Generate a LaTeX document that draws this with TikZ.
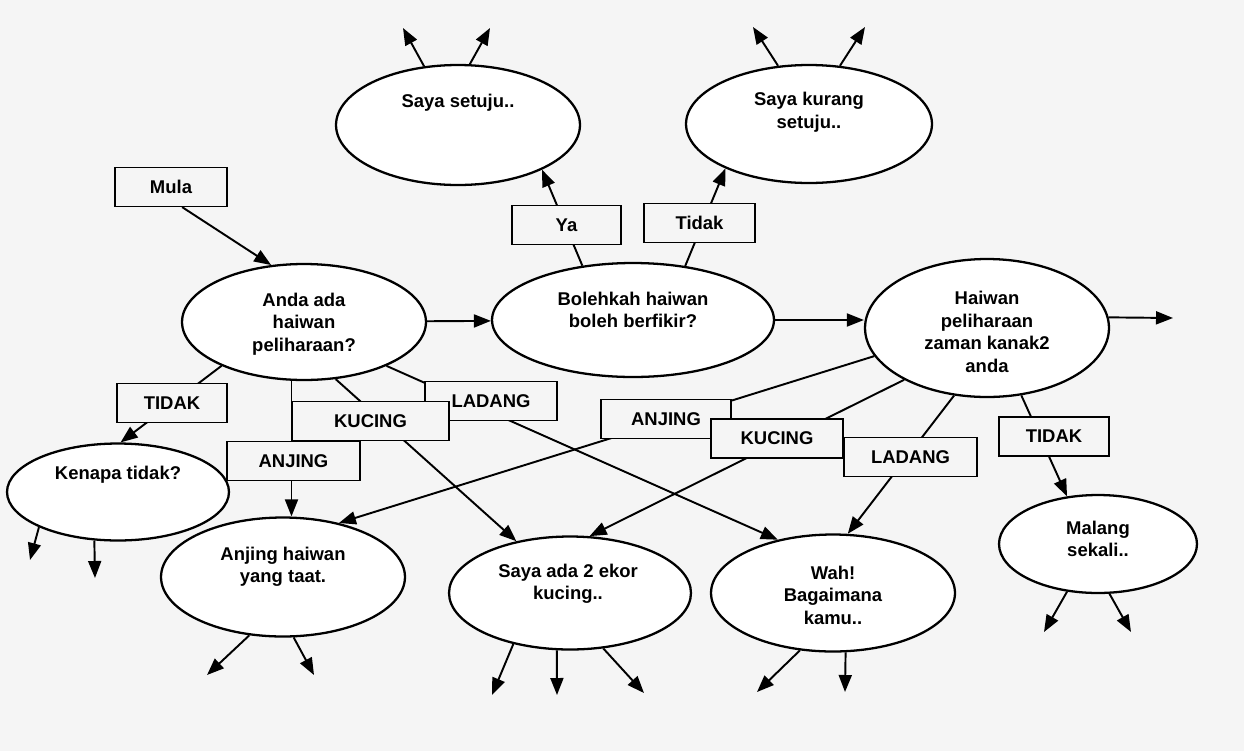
\documentclass[tikz,border=0pt]{standalone}
\usepackage{fontspec}
\setmainfont{Liberation Sans}
\usetikzlibrary{shapes.geometric, arrows.meta}
\colorlet{paper}{gray!8}

\begin{document}
\begin{tikzpicture}[
    % Один шаг = один пиксель исходной картинки, ось y вниз
    x=0.02cm, y=-0.02cm,
    % Стиль для вопросов и ответов: эллипс с белым фоном
    bubble/.style={ellipse, draw, line width=1.3pt, fill=white, inner sep=0pt},
    % Стиль для подписей на стрелках: тонкая рамка
    choice/.style={rectangle, draw, line width=0.7pt, fill=paper, inner sep=0pt,
        minimum height=0.78cm, font=\fontsize{10.5}{12.8}\selectfont\bfseries},
    % Текст внутри эллипсов
    words/.style={align=center, font=\fontsize{10.5}{12.8}\selectfont\bfseries},
    % Стрелки
    flow/.style={line width=1.1pt, -{Triangle[length=0.34cm, width=0.26cm]}}
]

    % --- Фон ---
    \path[fill=paper, use as bounding box] (0,0) rectangle (1244,751);

    % --- Эллипсы (вопросы и ответы) ---
    \node[bubble, minimum width=4.88cm, minimum height=2.40cm] (ss)  at (458,125) {};
    \node[bubble, minimum width=4.92cm, minimum height=2.36cm] (sk)  at (809,124) {};
    \node[bubble, minimum width=4.88cm, minimum height=2.32cm] (aa)  at (304,322) {};
    \node[bubble, minimum width=5.64cm, minimum height=2.28cm] (bh)  at (633,320) {};
    \node[bubble, minimum width=4.88cm, minimum height=2.76cm] (hp)  at (987,328) {};
    \node[bubble, minimum width=4.44cm, minimum height=1.94cm] (kt)  at (118,492) {};
    \node[bubble, minimum width=4.88cm, minimum height=2.38cm] (ah)  at (283,577) {};
    \node[bubble, minimum width=4.84cm, minimum height=2.26cm] (sa)  at (570,593) {};
    \node[bubble, minimum width=4.88cm, minimum height=2.34cm] (wah) at (833,593) {};
    \node[bubble, minimum width=3.96cm, minimum height=1.96cm] (mal) at (1098,544) {};

    \node[words] (ss-t)  at (458,103) {Saya setuju..};
    \node[words] (sk-t)  at (809,112) {Saya kurang\\setuju..};
    \node[words] (aa-t)  at (304,324) {Anda ada\\haiwan\\peliharaan?};
    \node[words] (bh-t)  at (633,310) {Bolehkah haiwan\\boleh berfikir?};
    \node[words] (hp-t)  at (987,332) {Haiwan\\peliharaan\\zaman kanak2\\anda};
    \node[words] (kt-t)  at (118,475) {Kenapa tidak?};
    \node[words] (ah-t)  at (283,567) {Anjing haiwan\\yang taat.};
    \node[words] (sa-t)  at (568,584) {Saya ada 2 ekor\\kucing..};
    \node[words] (wah-t) at (833,595) {Wah!\\Bagaimana\\kamu..};
    \node[words] (mal-t) at (1098,539) {Malang\\sekali..};

    % --- Начало ---
    \node[choice, minimum width=2.24cm] (mula) at (171,187) {Mula};
    \draw[flow] (mula.-61) -- (aa.120);

    % --- Свободные концы стрелок ---
    \coordinate (ss-a)  at (403,28);
    \coordinate (ss-b)  at (490,28);
    \coordinate (sk-a)  at (753,27);
    \coordinate (sk-b)  at (865,27);
    \coordinate (hp-a)  at (1173,318);
    \coordinate (kt-a)  at (30,560);
    \coordinate (kt-b)  at (95,578);
    \coordinate (ah-a)  at (207,675);
    \coordinate (ah-b)  at (314,675);
    \coordinate (sa-a)  at (492,695);
    \coordinate (sa-b)  at (557,695);
    \coordinate (sa-c)  at (644,693);
    \coordinate (wah-a) at (757,692);
    \coordinate (wah-b) at (845,692);
    \coordinate (mal-a) at (1044,632);
    \coordinate (mal-b) at (1131,632);

    \draw[flow] (ss.120) -- (ss-a);
    \draw[flow] (ss.79) -- (ss-b);
    \draw[flow] (sk.118) -- (sk-a);
    \draw[flow] (sk.62) -- (sk-b);
    \draw[flow] (hp.5) -- (hp-a);
    \draw[flow] (kt.204) -- (kt-a);
    \draw[flow] (kt.244) -- (kt-b);
    \draw[flow] (ah.240) -- (ah-a);
    \draw[flow] (ah.280) -- (ah-b);
    \draw[flow] (sa.222) -- (sa-a);
    \draw[flow] (sa.257) -- (sa-b);
    \draw[flow] (sa.301) -- (sa-c);
    \draw[flow] (wah.240) -- (wah-a);
    \draw[flow] (wah.282) -- (wah-b);
    \draw[flow] (mal.237) -- (mal-a);
    \draw[flow] (mal.283) -- (mal-b);

    % --- Переходы между эллипсами ---
    \draw[flow] (aa) -- (bh);
    \draw[flow] (bh.east) -- (hp.west |- bh.east);
    \draw[flow] (bh.133) -- (ss.-28);
    \draw[flow] (bh.46) -- (sk.208);
    \draw[flow] (aa.208) -- (kt.87);
    \draw[flow] (aa.258) -- (aa.258 |- ah.north);
    \draw[flow] (aa.-61) -- (sa.136);
    \draw[flow] (aa.-28) -- (wah.136);
    \draw[flow] (hp.194) -- (ah.44);
    \draw[flow] (hp.212) -- (sa.71);
    \draw[flow] (hp.244) -- (wah.76);
    \draw[flow] (hp.-63) -- (mal.123);

    % --- Подписи на переходах (поверх линий) ---
    \node[choice, minimum width=2.18cm] (ya)      at (566.5,225) {Ya};
    \node[choice, minimum width=2.22cm] (tidak)   at (699.5,223) {Tidak};
    \node[choice, minimum width=2.20cm] (tidak1)  at (172,403)   {TIDAK};
    \node[choice, minimum width=2.66cm] (anjing1) at (293.5,461) {ANJING};
    \node[choice, minimum width=2.64cm] (ladang1) at (491,401)   {LADANG};
    \node[choice, minimum width=3.14cm] (kucing1) at (370.5,421) {KUCING};
    \node[choice, minimum width=2.60cm] (anjing2) at (666,419)   {ANJING};
    \node[choice, minimum width=2.64cm] (kucing2) at (777,438.5) {KUCING};
    \node[choice, minimum width=2.66cm] (ladang2) at (910.5,457) {LADANG};
    \node[choice, minimum width=2.20cm] (tidak2)  at (1054,436.5) {TIDAK};

\end{tikzpicture}
\end{document}
